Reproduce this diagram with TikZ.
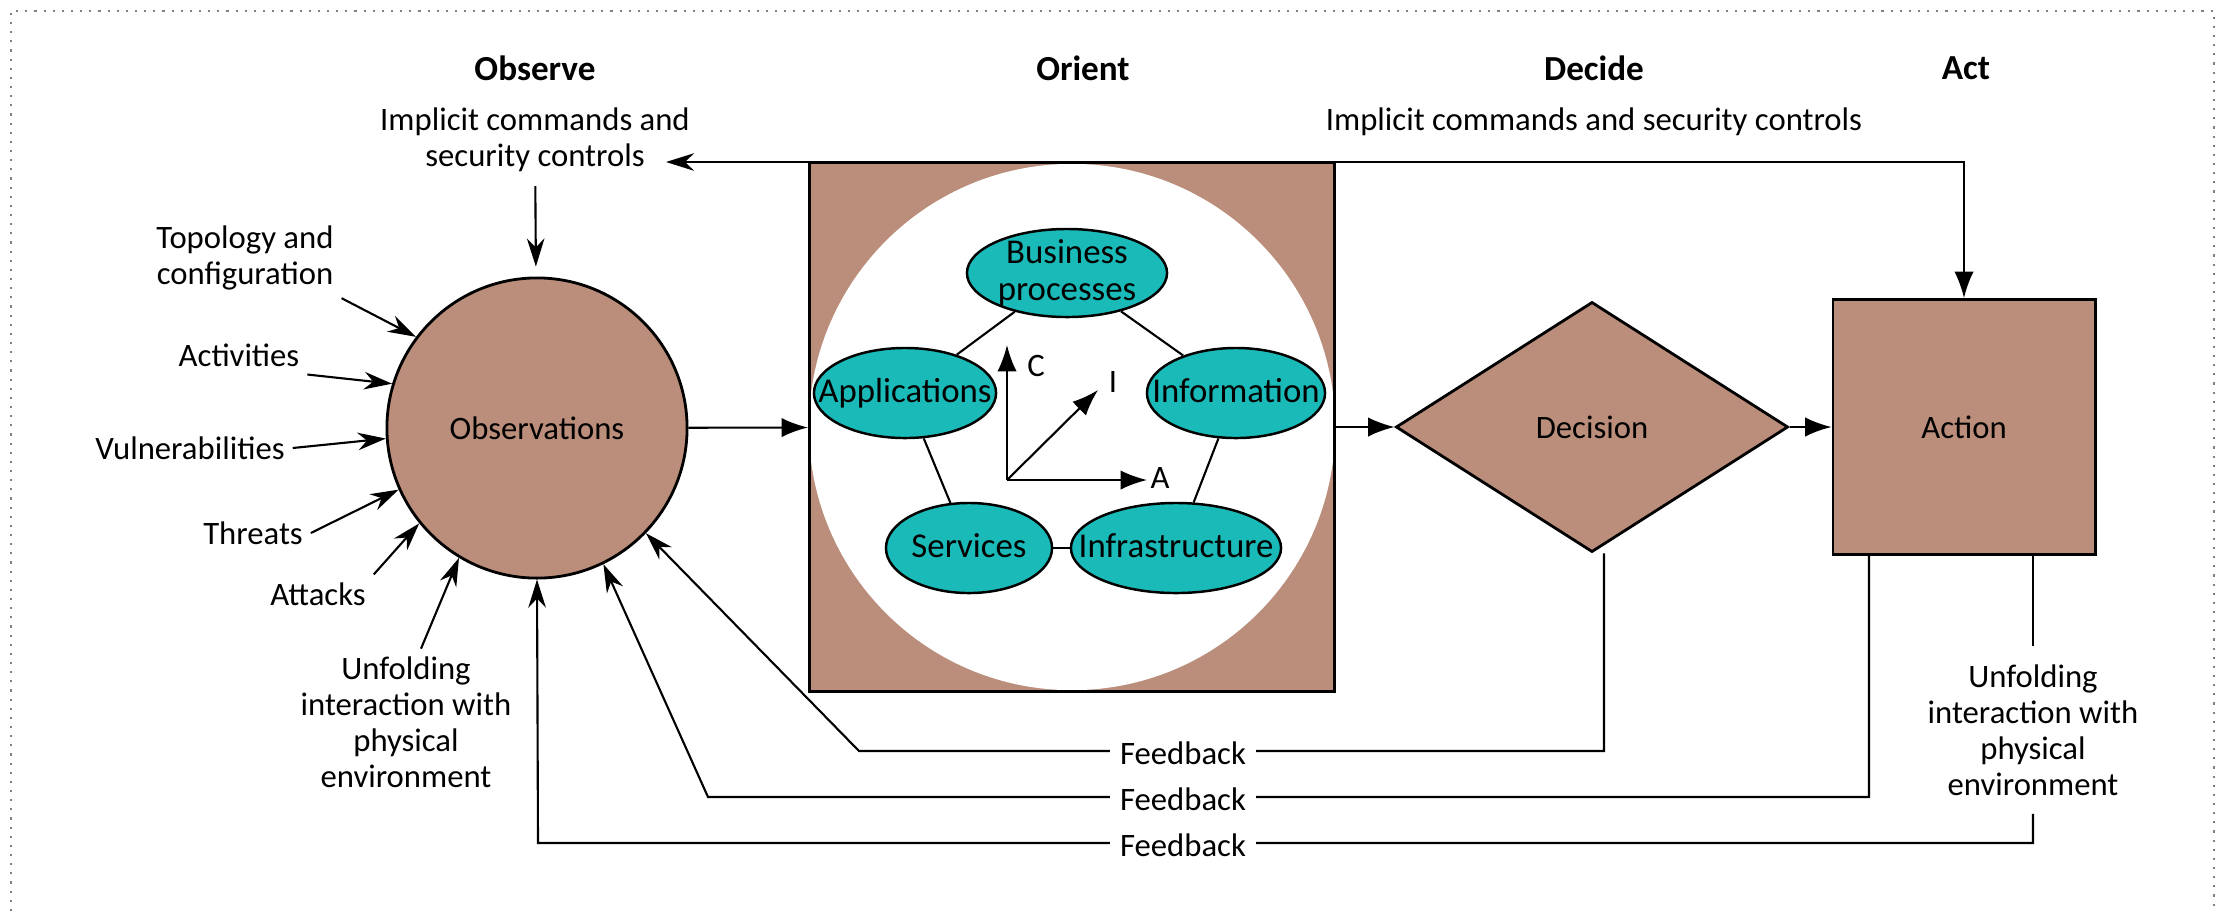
\documentclass[tikz,border=0pt]{standalone}
\usepackage{fontspec}
\setmainfont{Carlito}
\usetikzlibrary{shapes.geometric,arrows.meta,positioning}
\definecolor{clay}{HTML}{BB8E7B}
\definecolor{tealish}{HTML}{1ABAB9}
\newcommand{\ovtext}[1]{\smash{\makebox[0pt]{\raisebox{-3pt}{\begin{tabular}{@{}c@{}}#1\end{tabular}}}}}
\tikzset{
  lbl/.style={align=center, inner sep=2pt, font=\fontsize{9.3}{10.2}\selectfont},
  hd/.style={lbl, font=\fontsize{10}{12}\selectfont\bfseries},
  fblbl/.style={lbl, fill=white, inner xsep=3pt, inner ysep=1pt},
  ovl/.style={ellipse, draw, line width=0.7pt, fill=tealish, inner sep=0pt, minimum height=.9cm,
    font=\fontsize{9.9}{10.6}\selectfont},
  clayshape/.style={draw, line width=0.8pt, fill=clay, inner sep=0pt},
  arr/.style={-{Stealth[length=8pt,width=5pt]}},
  bigarr/.style={-{Latex[length=7.5pt,width=5.5pt]}},
  twoarr/.style={{Stealth[length=8pt,width=5pt]}-{Latex[length=7.5pt,width=5.5pt]}},
}
\begin{document}
\begin{tikzpicture}[x=0.01cm, y=-0.01cm, line width=0.6pt, every node/.append style={lbl}]
\useasboundingbox (0,0) rectangle (2221,911);
\draw[dotted, gray] (11,911) -- (11,11) -- (2214,11) -- (2214,911);

\node[hd] (hobs) at (535,68) {Observe};
\node[hd] (hori) at (1083,68) {Orient};
\node[hd] (hdec) at (1594,68) {Decide};
\node[hd] (hact) at (1966,68) {Act};
\node (ctlL) at (535,140) {Implicit commands and\\security controls};
\node (ctlR) at (1594,122) {Implicit commands and security controls};

\node[clayshape, circle, minimum size=3cm] (obs) at (537,428) {Observations};
\node[clayshape, minimum width=5.25cm, minimum height=5.29cm,
  path picture={\fill[white] (path picture bounding box.center) circle (2.63cm);}] (ori) at (1072,427) {};
\node[clayshape, diamond, minimum width=3.92cm, minimum height=2.5cm] (dec) at (1592,427) {Decision};
\node[clayshape, minimum width=2.62cm, minimum height=2.55cm] (act) at (1964,427) {Action};

\node[ovl, minimum width=2cm, minimum height=.88cm] (bp) at (1067,273) {\ovtext{Business\\processes}};
\node[ovl, minimum width=1.82cm] (app) at (905,393) {\ovtext{Applications}};
\node[ovl, minimum width=1.78cm] (info) at (1236,393) {\ovtext{Information}};
\node[ovl, minimum width=1.66cm] (srv) at (969,548) {\ovtext{Services}};
\node[ovl, minimum width=2.1cm] (infra) at (1176,548) {\ovtext{Infrastructure}};
\draw[](bp) -- (app);
\draw[](bp) -- (info);
\draw[](app) -- (srv);
\draw[](info) -- (infra);
\draw[](srv) -- (infra);

\coordinate (ax0) at (1007,480);
\coordinate (ctip) at (1007,345);
\coordinate (atip) at (1147,480);
\coordinate (itip) at (1098,390);
\node (cC) at (1036,366) {C};
\node (cA) at (1160,478) {A};
\node (cI) at (1113,382) {I};
\draw[bigarr] (ax0) -- (ctip);
\draw[bigarr] (ax0) -- (atip);
\draw[bigarr] (ax0) -- (itip);

\draw[bigarr] (obs) -- (ori);
\draw[bigarr] (ori) -- (dec);
\draw[bigarr] (dec) -- (act);
\coordinate (ctltip) at (666,162);
\draw[twoarr] (ctltip) -| (act.north);
\draw[arr, shorten <=.06cm, shorten >=.1cm] (ctlL) -- (obs);

\node (topo) at (245,258) {Topology and\\configuration};
\node (activ) at (239,355) {Activities};
\node (vuln) at (190,448) {Vulnerabilities};
\node (thr) at (253,533) {Threats};
\node (att) at (318,594) {Attacks};
\node (unfL) at (406,722) {Unfolding\\interaction with\\physical\\environment};
\node[inner ysep=5pt] (unfR) at (2033,730) {Unfolding\\interaction with\\physical\\environment};
\draw[arr] (topo.south east) -- (obs.143);
\draw[arr] (activ.south east) -- (obs.163);
\draw[arr] (vuln.east) -- (obs.184);
\draw[arr] (thr.east) -- (obs.204);
\draw[arr] (att.north east) -- (obs.219);
\draw[arr] ([xshift=.15cm]unfL.north) -- (obs.239);

\coordinate (fbc1) at (859,751);
\coordinate (fbc2) at (708,797);
\coordinate (fbc3) at (538,843);
\draw[arr] ([xshift=.12cm]dec.south) |- (fbc1) -- (obs.-44);
\draw[arr] ([xshift=-.95cm]act.south) |- (fbc2) -- (obs.-64);
\draw[](act.south -| unfR) -- (unfR);
\draw[arr] (unfR.south) |- (fbc3) -- (obs.south);
\node[fblbl] (fb1) at (1183,753) {Feedback};
\node[fblbl] (fb2) at (1183,799) {Feedback};
\node[fblbl] (fb3) at (1183,845) {Feedback};
\end{tikzpicture}
\end{document}
